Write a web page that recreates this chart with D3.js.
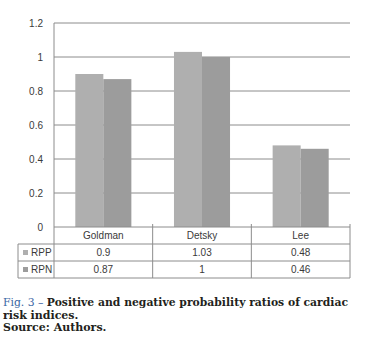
<!DOCTYPE html>
<html>
<head>
<meta charset="utf-8">
<script src="https://cdn.jsdelivr.net/npm/d3@7"></script>
<style>
  body { margin: 0; background: #fff; }
  svg { display: block; }
  .tick-label, .cell { font-family: "Liberation Sans", Arial, sans-serif; font-size: 10px; fill: #3a3a3a; }
  .caption { font-family: "DejaVu Serif", serif; font-size: 11px; fill: #231f20; }
</style>
</head>
<body>
<svg id="chart" width="373" height="345"></svg>
<script>
(function() {
const categories = ['Goldman', 'Detsky', 'Lee'];
const series = ['RPP', 'RPN'];
const rpp = [0.9, 1.03, 0.48];
const rpn = [0.87, 1, 0.46];
const yTicks = [0, 0.2, 0.4, 0.6, 0.8, 1, 1.2];
const colors = ['#afafaf', '#9c9c9c'];
const values = [rpp, rpn];

const svg = d3.select('svg#chart');
const plot = { left: 54, right: 350, top: 23, bottom: 227 };
const rowH = 17;
const tableLeft = 18;
const lineColor = '#8c8c8c';

const x0 = d3.scaleBand().domain(categories).range([plot.left, plot.right]);
const x1 = d3.scaleBand().domain(series).range([0, x0.bandwidth()]).paddingOuter(0.76);
const y = d3.scaleLinear().domain([0, 1.2]).range([plot.bottom, plot.top]);

// gridlines
svg.append('g').selectAll('line')
    .data(yTicks.filter(d => d > 0))
    .join('line')
    .attr('x1', plot.left).attr('x2', plot.right)
    .attr('y1', d => y(d)).attr('y2', d => y(d))
    .attr('stroke', lineColor).attr('stroke-width', 1);

// y labels
svg.append('g').selectAll('text')
    .data(yTicks)
    .join('text')
    .attr('class', 'tick-label')
    .attr('x', 43)
    .attr('y', d => y(d))
    .attr('dy', '0.35em')
    .attr('text-anchor', 'end')
    .text(d => d);

// bars
series.forEach((s, si) => {
  svg.append('g').selectAll('rect')
      .data(categories)
      .join('rect')
      .attr('x', (c) => x0(c) + x1(s))
      .attr('width', x1.bandwidth())
      .attr('y', (c, i) => y(values[si][i]))
      .attr('height', (c, i) => y(0) - y(values[si][i]))
      .attr('fill', colors[si]);
});

// axis + table lines
const tableBottom = plot.bottom + rowH * 3;
const g = svg.append('g').attr('stroke', lineColor).attr('stroke-width', 1);
g.append('line').attr('x1', plot.left).attr('x2', plot.left).attr('y1', plot.top).attr('y2', tableBottom);
g.append('line').attr('x1', plot.left).attr('x2', plot.right).attr('y1', plot.bottom).attr('y2', plot.bottom);
for (let r = 1; r <= 3; r++) {
  g.append('line').attr('x1', tableLeft).attr('x2', plot.right)
      .attr('y1', plot.bottom + rowH * r).attr('y2', plot.bottom + rowH * r);
}
g.append('line').attr('x1', tableLeft).attr('x2', tableLeft).attr('y1', plot.bottom + rowH).attr('y2', tableBottom);
categories.forEach(c => {
  const xr = x0(c) + x0.bandwidth();
  g.append('line').attr('x1', xr).attr('x2', xr).attr('y1', plot.bottom - 3).attr('y2', tableBottom);
});

// table header
svg.append('g').selectAll('text')
    .data(categories)
    .join('text')
    .attr('class', 'cell')
    .attr('x', c => x0(c) + x0.bandwidth() / 2)
    .attr('y', plot.bottom + rowH / 2)
    .attr('dy', '0.35em')
    .attr('text-anchor', 'middle')
    .text(c => c);

// table rows
series.forEach((s, si) => {
  const ry = plot.bottom + rowH * (si + 1.5);
  svg.append('rect')
      .attr('x', tableLeft + 5).attr('y', ry - 2.5)
      .attr('width', 5).attr('height', 5)
      .attr('fill', colors[si]);
  svg.append('text')
      .attr('class', 'cell')
      .attr('x', tableLeft + 13).attr('y', ry).attr('dy', '0.35em')
      .text(s);
  svg.append('g').selectAll('text')
      .data(categories)
      .join('text')
      .attr('class', 'cell')
      .attr('x', c => x0(c) + x0.bandwidth() / 2)
      .attr('y', ry).attr('dy', '0.35em')
      .attr('text-anchor', 'middle')
      .text((c, i) => values[si][i]);
});

// caption
const cap = svg.append('text').attr('class', 'caption').attr('x', 3).attr('y', 306)
    .attr('textLength', 345).attr('lengthAdjust', 'spacingAndGlyphs');
cap.append('tspan').attr('fill', '#3a66a3').text('Fig. 3 – ');
cap.append('tspan').attr('font-weight', 'bold').text('Positive and negative probability ratios of cardiac');
svg.append('text').attr('class', 'caption').attr('x', 3).attr('y', 319)
    .attr('font-weight', 'bold').text('risk indices.');
svg.append('text').attr('class', 'caption').attr('x', 3).attr('y', 331)
    .attr('font-weight', 600).text('Source: Authors.');
})();
</script>
</body>
</html>
